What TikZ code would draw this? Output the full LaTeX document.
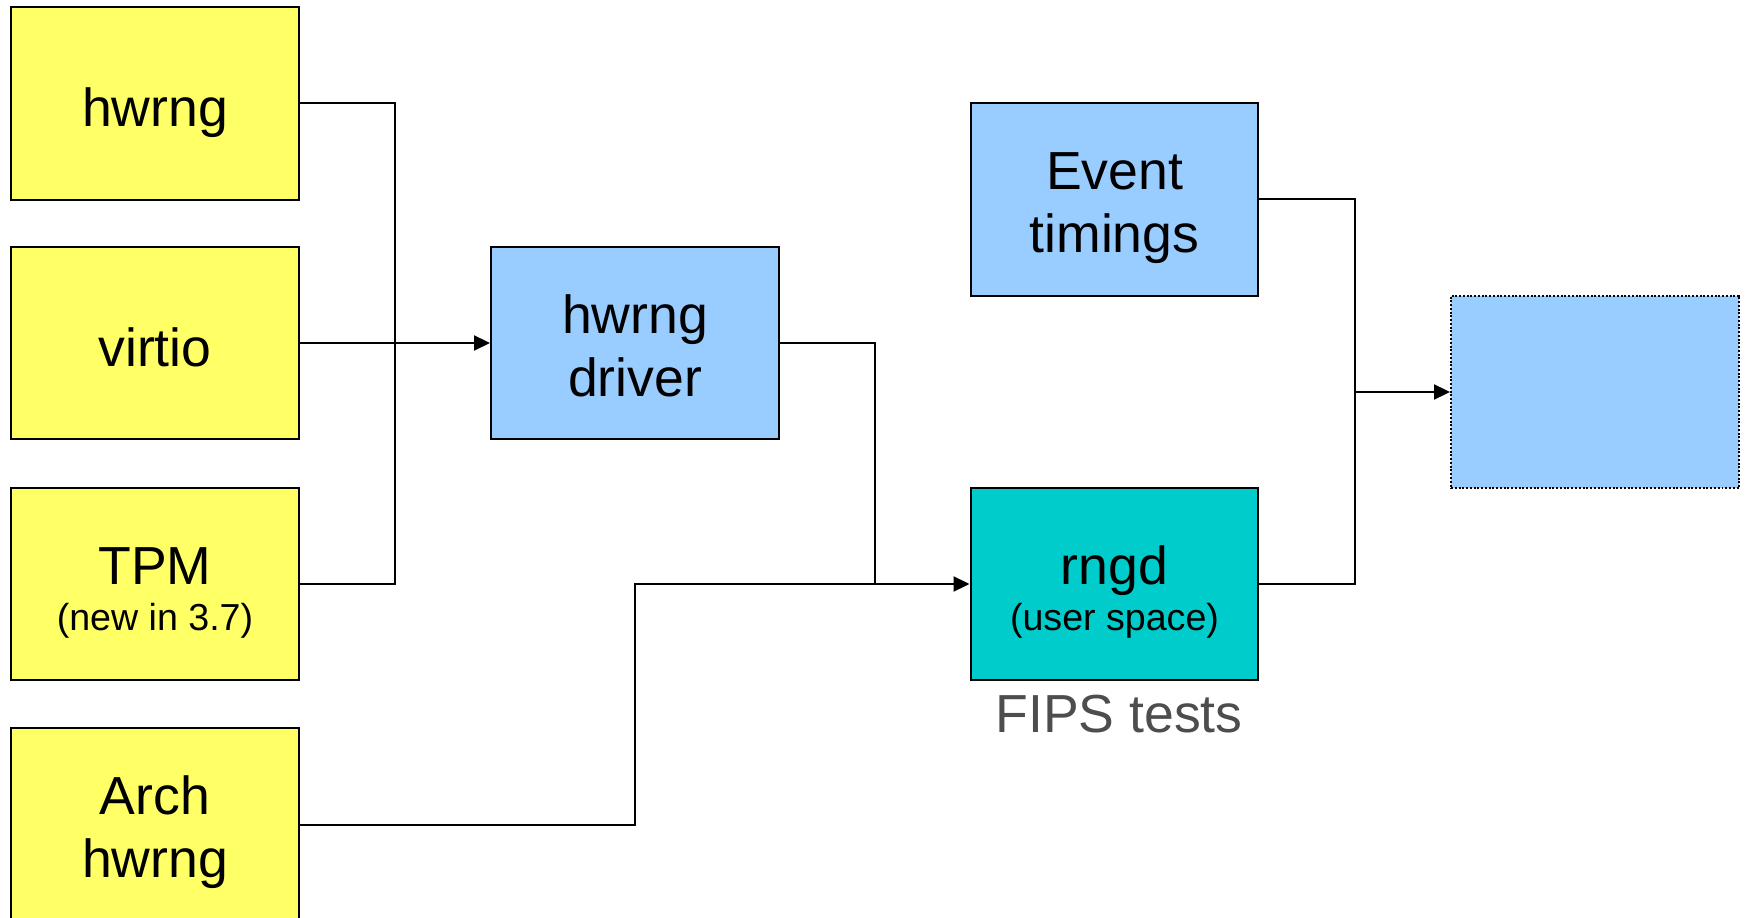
\documentclass[tikz,border=0pt]{standalone}
\usepackage{fontspec}
\setmainfont{Liberation Sans}
\usetikzlibrary{arrows.meta}
\definecolor{srcyellow}{HTML}{FFFF66}
\definecolor{drvblue}{HTML}{99CCFF}
\definecolor{rngcyan}{HTML}{00CCCC}
\definecolor{fipsgray}{HTML}{4D4D4D}
\newcommand{\bigtext}{\fontsize{30.5}{36}\selectfont}
\newcommand{\smalltext}{\fontsize{21.4}{25}\selectfont}
\newcommand{\boxlines}[1]{\begin{tabular}[b]{@{}c@{}}#1\end{tabular}}
\tikzset{
  box/.style={draw=black, line width=0.04cm, minimum width=5.76cm, minimum height=3.86cm,
    inner sep=0pt, font=\bigtext, text height=26.2pt, text depth=0pt},
  twolines/.style={text height=60.7pt},
  subline/.style={text height=53.4pt},
  srcbox/.style={box, fill=srcyellow},
  drvbox/.style={box, fill=drvblue},
  wire/.style={line width=0.04cm},
  arr/.style={wire, -{Triangle[length=0.32cm,width=0.3cm]}}
}
\begin{document}
\begin{tikzpicture}[x=0.02cm, y=-0.02cm]
        \useasboundingbox (0,0) rectangle (1747,918);
        \clip (0,0) rectangle (1747,918);
        % Quellen
        \node[srcbox] (hw) at (155,103.5) {hwrng};
        \node[srcbox] (virt) at (155,343) {virtio};
        \node[srcbox, subline] (tpm) at (155,584) {\boxlines{TPM\\[-9.3pt]{\smalltext (new in 3.7)}}};
        \node[srcbox, twolines] (arch) at (155,824.5) {\boxlines{Arch\\hwrng}};
        % Treiber und Daemon
        \node[drvbox, twolines] (drv) at (635,343) {\boxlines{hwrng\\driver}};
        \node[drvbox, twolines] (evt) at (1114.5,199.5) {\boxlines{Event\\timings}};
        \node[box, subline, fill=rngcyan] (rngd) at (1114.5,584) {\boxlines{rngd\\[-9.3pt]{\smalltext (user space)}}};
        \node[anchor=base, text=fipsgray, font=\bigtext] (fips) at (1119,732) {FIPS tests};
        \node[drvbox, draw=black, densely dotted] (pool) at (1595,392) {};
        % Verbindungen
        \coordinate (jl) at (395,343);
        \coordinate (jm) at (875,584);
        \coordinate (ka) at (635,584);
        \coordinate (jr) at (1355,392);
        \draw[wire] (hw.east) -| (jl);
        \draw[wire] (tpm.east) -| (jl);
        \draw[arr] (virt.east) -- (drv.west);
        \draw[wire] (drv.east) -| (jm);
        \draw[arr] (arch.east) -| (ka) -- (rngd.west);
        \draw[wire] (evt.east) -| (jr);
        \draw[wire] (rngd.east) -| (jr);
        \draw[arr] (jr) -- (pool.west);
    \end{tikzpicture}
\end{document}
